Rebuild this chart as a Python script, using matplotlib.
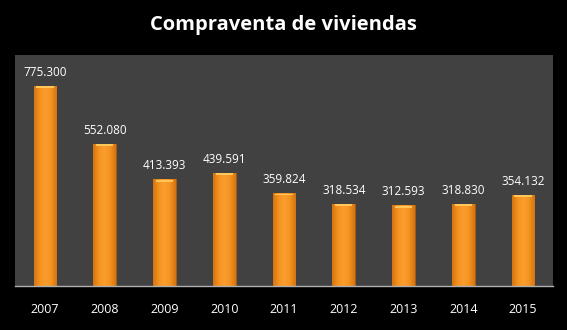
import numpy
from matplotlib import pyplot
from matplotlib.colors import LinearSegmentedColormap

# data
years = ['2007', '2008', '2009', '2010', '2011', '2012', '2013', '2014', '2015']
sales = [775300, 552080, 413393, 439591, 359824, 318534, 312593, 318830, 354132]
labels = ['775.300', '552.080', '413.393', '439.591', '359.824',
          '318.534', '312.593', '318.830', '354.132']

pyplot.rcParams['font.family'] = ['Open Sans', 'DejaVu Sans']

fig = pyplot.figure(figsize=(5.67, 3.30), dpi=100, facecolor='black')
ax = fig.add_axes([15 / 567, 44 / 330, 538 / 567, 231 / 330])
ax.set_facecolor('#414141')

x = numpy.arange(len(years))
bars = ax.bar(x, sales, width=0.38, color='#f7931e', edgecolor='#a85a10',
              linewidth=0.6, zorder=2)

# soft horizontal orange gradient inside each bar, light cap on top
grad = LinearSegmentedColormap.from_list('bar', ['#d47412', '#f5931f', '#fa9d30',
                                                 '#f5931f', '#d47412'])
shade = numpy.linspace(0, 1, 64).reshape(1, -1)
for b in bars:
    x0, w, h = b.get_x(), b.get_width(), b.get_height()
    im = ax.imshow(shade, cmap=grad, aspect='auto', extent=(x0, x0 + w, 0, h),
                   zorder=2.5)
    im.set_clip_path(b)
    ax.fill_between([x0 + w * 0.12, x0 + w * 0.88], h - 9000, h - 1500,
                    color='#ffc65a', linewidth=0, zorder=3)

for xi, v, lab in zip(x, sales, labels):
    ax.annotate(lab, (xi, v), xytext=(0, 5), textcoords='offset points',
                ha='center', va='bottom', color='white', fontsize=8.5)

ax.set_xlim(-0.5, len(years) - 0.5)
ax.set_ylim(0, 895000)
ax.set_xticks(x)
ax.set_xticklabels(years, color='white', fontsize=9)
ax.tick_params(axis='x', length=0, pad=12)
ax.set_yticks([])
for side in ['top', 'right', 'left']:
    ax.spines[side].set_visible(False)
ax.spines['bottom'].set_color('#b0b0b0')
ax.spines['bottom'].set_linewidth(1)

fig.text(0.5, 1 - 25 / 330, 'Compraventa de viviendas', ha='center', va='center',
         color='white', fontsize=14.5, fontweight='bold')

fig.savefig('out.png', dpi=100, facecolor='black')
